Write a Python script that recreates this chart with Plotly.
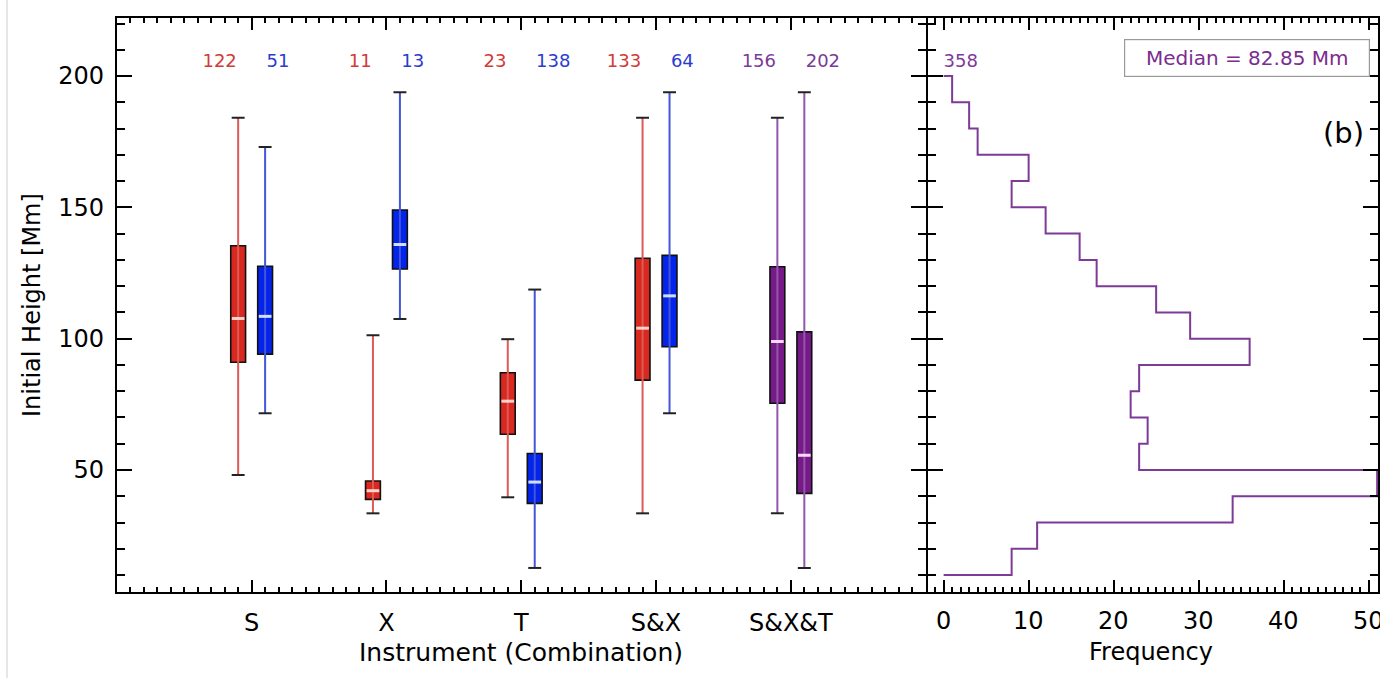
import plotly.graph_objects as go

# ---- box statistics per instrument combination ----
categories = ["S", "X", "T", "S&X", "S&X&T"]
cat_pos = [1, 2, 3, 4, 5]

# left member of each pair
left_low = [48.1, 33.5, 39.6, 33.5, 33.5]
left_q1 = [91.0, 38.8, 63.6, 84.2, 75.4]
left_med = [107.7, 42.1, 76.2, 104.0, 98.9]
left_q3 = [135.4, 45.8, 87.0, 130.6, 127.4]
left_high = [184.1, 101.3, 99.8, 184.1, 184.1]
left_n = [122, 11, 23, 133, 156]
left_kind = ["red", "red", "red", "red", "purple"]

# right member of each pair
right_low = [71.6, 107.5, 12.7, 71.6, 12.7]
right_q1 = [94.1, 126.5, 37.3, 96.9, 41.1]
right_med = [108.5, 135.9, 45.4, 116.3, 55.6]
right_q3 = [127.6, 149.0, 56.3, 131.7, 102.6]
right_high = [173.0, 193.8, 118.7, 193.8, 193.8]
right_n = [51, 13, 138, 64, 202]
right_kind = ["blue", "blue", "blue", "blue", "purple"]

# ---- histogram of initial heights (10 Mm bins) ----
bin_lo = [10, 20, 30, 40, 50, 60, 70, 80, 90, 100,
          110, 120, 130, 140, 150, 160, 170, 180, 190]
freq = [8, 11, 34, 51, 23, 24, 22, 23, 36, 29,
        25, 18, 16, 12, 8, 10, 4, 3, 1]
median_height = 82.85
bin_width = 10
freq_ticks = [0, 10, 20, 30, 40, 50]

PALETTE = {
    "red": dict(fill="#d8281f", whisker="#de5b55", median="#ffd2cc", text="#d23a36"),
    "blue": dict(fill="#0424ec", whisker="#4356d6", median="#cfe0ff", text="#2a3ccf"),
    "purple": dict(fill="#761a88", whisker="#9256ac", median="#ffd6ff", text="#7a3a98"),
}
HIST_COLOR = "#7d3a97"
FONT = "DejaVu Sans"

OFFSET = 0.1      # shift of each box from its category position
BOX_W = 0.11      # box width, category units
CAP_HALF = 0.048  # half width of the whisker caps
LABEL_GAP = 0.11  # distance of count labels from the category position
LABEL_Y = 205

fig = go.Figure()


def add_box(x, low, q1, med, q3, high, kind):
    c = PALETTE[kind]
    # whisker
    fig.add_trace(go.Scatter(x=[x, x], y=[low, high], mode="lines",
                             line=dict(color=c["whisker"], width=2),
                             xaxis="x", yaxis="y", hoverinfo="skip"))
    # box body
    fig.add_trace(go.Bar(x=[x], y=[q3 - q1], base=[q1], width=BOX_W,
                         marker=dict(color=c["fill"], line=dict(color="#111111", width=1.6)),
                         xaxis="x", yaxis="y", hoverinfo="skip"))
    # caps
    fig.add_trace(go.Scatter(x=[x - CAP_HALF, x + CAP_HALF, None, x - CAP_HALF, x + CAP_HALF],
                             y=[low, low, None, high, high], mode="lines",
                             line=dict(color="#222222", width=2),
                             xaxis="x", yaxis="y", hoverinfo="skip"))
    # median
    half = BOX_W / 2 - 0.008
    fig.add_trace(go.Scatter(x=[x - half, x + half], y=[med, med], mode="lines",
                             line=dict(color=c["median"], width=3),
                             xaxis="x", yaxis="y", hoverinfo="skip"))


for i, p in enumerate(cat_pos):
    add_box(p - OFFSET, left_low[i], left_q1[i], left_med[i], left_q3[i], left_high[i], left_kind[i])
    add_box(p + OFFSET, right_low[i], right_q1[i], right_med[i], right_q3[i], right_high[i], right_kind[i])

# sample sizes above each box
fig.add_trace(go.Scatter(
    x=[p - LABEL_GAP for p in cat_pos], y=[LABEL_Y] * len(cat_pos),
    text=[str(n) for n in left_n], mode="text", textposition="middle left",
    textfont=dict(family=FONT, size=18, color=[PALETTE[k]["text"] for k in left_kind]),
    xaxis="x", yaxis="y", hoverinfo="skip"))
fig.add_trace(go.Scatter(
    x=[p + LABEL_GAP for p in cat_pos], y=[LABEL_Y] * len(cat_pos),
    text=[str(n) for n in right_n], mode="text", textposition="middle right",
    textfont=dict(family=FONT, size=18, color=[PALETTE[k]["text"] for k in right_kind]),
    xaxis="x", yaxis="y", hoverinfo="skip"))

# stepped histogram, drawn horizontally (frequency along x)
top_first = list(range(len(bin_lo)))[::-1]
hx = [0] + [freq[j] for j in top_first] + [0]
hy = [bin_lo[-1] + bin_width] + [bin_lo[j] for j in top_first] + [bin_lo[0]]
fig.add_trace(go.Scatter(x=hx, y=hy, mode="lines", line_shape="hv",
                         line=dict(color=HIST_COLOR, width=2),
                         xaxis="x2", yaxis="y2", hoverinfo="skip"))
fig.add_trace(go.Scatter(x=[0], y=[LABEL_Y], text=[str(sum(freq))], mode="text",
                         textposition="middle right",
                         textfont=dict(family=FONT, size=18, color=HIST_COLOR),
                         xaxis="x2", yaxis="y2", hoverinfo="skip"))

W, H = 1380, 678
T_M, B_M = 18, 86
PH = H - T_M - B_M
x_left = 117 / W
x_split_l = 927 / W
x_split_r = 929 / W
y_range = [3.54, 222.1]
x2_range = [-1.88, 51.1]

axis_common = dict(
    showline=True, linecolor="black", linewidth=2, mirror="ticks",
    ticks="inside", tickcolor="black", tickwidth=2,
    showgrid=False, zeroline=False,
    tickfont=dict(family=FONT, size=24, color="black"),
)

annotations = [
    dict(text="Initial Height [Mm]", textangle=-90, xref="paper", yref="paper",
         x=32 / W, y=0.5, xanchor="center", yanchor="middle", showarrow=False,
         font=dict(family=FONT, size=24, color="black")),
    dict(text="Instrument (Combination)", xref="paper", yref="paper",
         x=(x_left + x_split_l) / 2, y=-(652 - 592) / PH,
         xanchor="center", yanchor="middle", showarrow=False,
         font=dict(family=FONT, size=25, color="black")),
    dict(text="Frequency", xref="paper", yref="paper",
         x=1153 / W, y=-(652 - 592) / PH,
         xanchor="center", yanchor="middle", showarrow=False,
         font=dict(family=FONT, size=24, color="black")),
    dict(text=f"Median = {median_height:.2f} Mm", xref="paper", yref="paper",
         x=(1126 + 1372) / 2 / W, y=1 - (58 - T_M) / PH,
         xanchor="center", yanchor="middle", showarrow=False,
         width=242, height=34, bordercolor="#9a9a9a", borderwidth=1.2,
         bgcolor="white",
         font=dict(family=FONT, size=20, color="#7b2d8e")),
    dict(text="(b)", xref="paper", yref="paper",
         x=1368 / W, y=1 - (133 - T_M) / PH,
         xanchor="right", yanchor="middle", showarrow=False,
         font=dict(family=FONT, size=29, color="black")),
]
# frequency tick labels, drawn as text so the last one runs off the page edge
for v in freq_ticks:
    annotations.append(dict(text=str(v), xref="x2", yref="paper", x=v,
                            y=-(621 - 592) / PH, xanchor="center", yanchor="middle",
                            showarrow=False,
                            font=dict(family=FONT, size=24, color="black")))

fig.update_layout(
    width=W, height=H,
    margin=dict(l=0, r=0, t=T_M, b=B_M),
    paper_bgcolor="white", plot_bgcolor="white",
    showlegend=False, barmode="overlay",
    font=dict(family=FONT, color="black"),
    xaxis=dict(
        domain=[x_left, x_split_l], range=[0, 6], anchor="y",
        tickmode="array", tickvals=cat_pos, ticktext=categories, ticklen=12,
        minor=dict(tickmode="linear", tick0=0, dtick=0.1, ticks="inside",
                   ticklen=5, tickwidth=1.5, tickcolor="black"),
        ticklabelstandoff=8,
        **axis_common,
    ),
    yaxis=dict(
        domain=[0, 1], range=y_range, anchor="x",
        tickmode="array", tickvals=[50, 100, 150, 200], ticklen=15,
        minor=dict(tickmode="linear", tick0=0, dtick=10, ticks="inside",
                   ticklen=8, tickwidth=1.5, tickcolor="black"),
        ticklabelstandoff=6,
        **axis_common,
    ),
    xaxis2=dict(
        domain=[x_split_r, 1], range=x2_range, anchor="y2",
        tickmode="array", tickvals=freq_ticks, ticklen=12,
        showticklabels=False,
        minor=dict(tickmode="linear", tick0=0, dtick=1, ticks="inside",
                   ticklen=5, tickwidth=1.5, tickcolor="black"),
        **axis_common,
    ),
    yaxis2=dict(
        domain=[0, 1], range=y_range, anchor="x2", matches="y",
        tickmode="array", tickvals=[50, 100, 150, 200], ticklen=15,
        showticklabels=False,
        minor=dict(tickmode="linear", tick0=0, dtick=10, ticks="inside",
                   ticklen=8, tickwidth=1.5, tickcolor="black"),
        **axis_common,
    ),
    annotations=annotations,
    shapes=[
        dict(type="line", xref="paper", yref="paper", x0=7 / W, x1=7 / W,
             y0=-B_M / PH, y1=1 + T_M / PH,
             line=dict(color="#e6e6e6", width=2)),
    ],
)

fig.write_html("out.html")
